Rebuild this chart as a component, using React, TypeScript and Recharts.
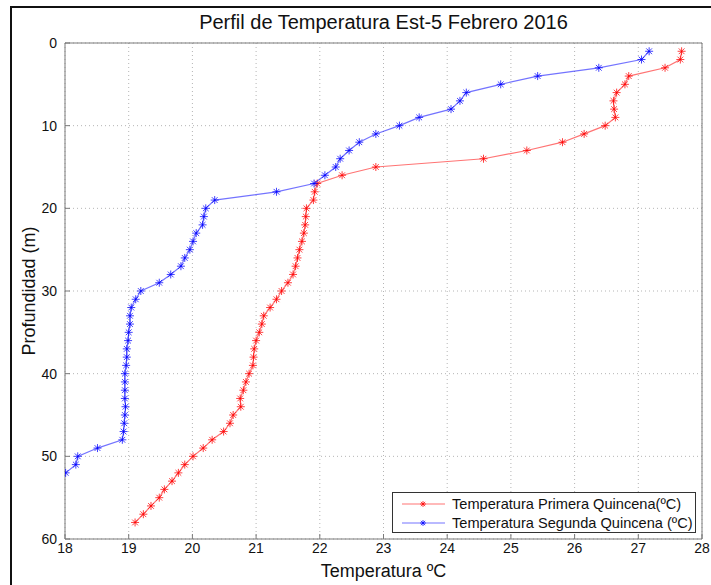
import React from 'react';
import {
  ScatterChart,
  Scatter,
  XAxis,
  YAxis,
  CartesianGrid,
} from 'recharts';

// Profundidad (m) y temperatura (ºC), Est-5, febrero 2016
const profundidadPrimera = [
  1, 2, 3, 4, 5, 6, 7, 8, 9, 10, 11, 12, 13, 14, 15, 16, 17, 18, 19, 20,
  21, 22, 23, 24, 25, 26, 27, 28, 29, 30, 31, 32, 33, 34, 35, 36, 37, 38, 39, 40,
  41, 42, 43, 44, 45, 46, 47, 48, 49, 50, 51, 52, 53, 54, 55, 56, 57, 58,
];
const tempPrimera = [
  27.68, 27.66, 27.42, 26.85, 26.79, 26.66, 26.61, 26.62, 26.64, 26.48,
  26.15, 25.81, 25.25, 24.57, 22.88, 22.35, 21.96, 21.92, 21.9, 21.79,
  21.78, 21.77, 21.75, 21.72, 21.68, 21.65, 21.62, 21.58, 21.5, 21.4,
  21.32, 21.22, 21.12, 21.09, 21.05, 21.0, 20.97, 20.96, 20.95, 20.89,
  20.84, 20.8, 20.75, 20.76, 20.64, 20.59, 20.49, 20.31, 20.17, 20.01,
  19.88, 19.78, 19.68, 19.56, 19.48, 19.35, 19.23, 19.1,
];

const profundidadSegunda = [
  1, 2, 3, 4, 5, 6, 7, 8, 9, 10, 11, 12, 13, 14, 15, 16, 17, 18, 19, 20,
  21, 22, 23, 24, 25, 26, 27, 28, 29, 30, 31, 32, 33, 34, 35, 36, 37, 38, 39, 40,
  41, 42, 43, 44, 45, 46, 47, 48, 49, 50, 51, 52,
];
const tempSegunda = [
  27.17, 27.05, 26.38, 25.42, 24.84, 24.3, 24.2, 24.06, 23.56, 23.25,
  22.88, 22.62, 22.46, 22.32, 22.25, 22.08, 21.91, 21.32, 20.35, 20.21,
  20.18, 20.16, 20.06, 20.01, 19.96, 19.88, 19.82, 19.66, 19.48, 19.19,
  19.11, 19.04, 19.02, 19.02, 19.0, 18.99, 18.97, 18.97, 18.96, 18.94,
  18.94, 18.94, 18.94, 18.95, 18.94, 18.93, 18.92, 18.9, 18.51, 18.2,
  18.17, 18.01,
];

const xTicks = [18, 19, 20, 21, 22, 23, 24, 25, 26, 27, 28];
const yTicks = [0, 10, 20, 30, 40, 50, 60];

const primera = profundidadPrimera.map((d, i) => ({ temp: tempPrimera[i], prof: d }));
const segunda = profundidadSegunda.map((d, i) => ({ temp: tempSegunda[i], prof: d }));

const ROJO = '#ff0000';
const AZUL = '#0000ff';
const FONT = '"Liberation Sans", Arial, sans-serif';
const AXIS = '#7a7a7a';

function Asterisco({ cx, cy, color, r = 4 }: { cx?: number; cy?: number; color: string; r?: number }) {
  if (cx == null || cy == null) return null;
  const d = r * 0.72;
  return (
    <g stroke={color} strokeWidth={1} strokeOpacity={0.75}>
      <line x1={cx - r} y1={cy} x2={cx + r} y2={cy} />
      <line x1={cx} y1={cy - r} x2={cx} y2={cy + r} />
      <line x1={cx - d} y1={cy - d} x2={cx + d} y2={cy + d} />
      <line x1={cx - d} y1={cy + d} x2={cx + d} y2={cy - d} />
    </g>
  );
}

function Leyenda() {
  const fila = (color: string, texto: string) => (
    <div style={{ display: 'flex', alignItems: 'center', height: 19 }}>
      <svg width={51} height={12} style={{ marginLeft: 8 }}>
        <line x1={1} y1={6} x2={44} y2={6} stroke={color} strokeOpacity={0.55} strokeWidth={1.2} />
        <Asterisco cx={22} cy={6} color={color} r={3} />
      </svg>
      <span style={{ fontSize: 14.6, color: '#111', whiteSpace: 'nowrap' }}>{texto}</span>
    </div>
  );
  return (
    <div
      style={{
        position: 'absolute',
        left: 392,
        top: 492,
        border: '1px solid #333',
        background: '#fff',
        width: 304,
        height: 41,
        boxSizing: 'border-box',
        paddingTop: 1,
        fontFamily: FONT,
      }}
    >
      {fila(ROJO, 'Temperatura Primera Quincena(ºC)')}
      {fila(AZUL, 'Temperatura Segunda Quincena (ºC)')}
    </div>
  );
}

export default function App() {
  const tickStyle = { fontSize: 14, fill: '#111', fontFamily: FONT };
  return (
    <div
      style={{
        position: 'absolute',
        left: 0,
        top: 0,
        width: 711,
        height: 585,
        background: '#fff',
        overflow: 'hidden',
        fontFamily: FONT,
      }}
    >
      <div
        style={{
          position: 'absolute',
          left: 10,
          top: 6,
          width: 720,
          height: 600,
          borderLeft: '2px solid #111',
          borderTop: '2px solid #111',
        }}
      />
      <div
        style={{
          position: 'absolute',
          left: 0,
          width: 767,
          top: 11,
          textAlign: 'center',
          fontSize: 20,
          color: '#111',
        }}
      >
        Perfil de Temperatura Est-5 Febrero 2016
      </div>
      <div
        style={{
          position: 'absolute',
          left: 0,
          width: 767,
          top: 561,
          textAlign: 'center',
          fontSize: 18,
          color: '#111',
        }}
      >
        Temperatura ºC
      </div>
      <div
        style={{
          position: 'absolute',
          left: 29,
          top: 291,
          transform: 'translate(-50%, -50%) rotate(-90deg)',
          fontSize: 18,
          color: '#111',
          whiteSpace: 'nowrap',
        }}
      >
        Profundidad (m)
      </div>
      <div style={{ position: 'absolute', left: 0, top: 0 }}>
        <ScatterChart width={711} height={585} margin={{ top: 42, right: 8, bottom: 45, left: 64 }}>
          <CartesianGrid stroke="#b5b5b5" strokeDasharray="1 3" />
          <XAxis
            type="number"
            dataKey="temp"
            domain={[18, 28]}
            ticks={xTicks}
            height={1}
            tickSize={-5}
            tickMargin={9}
            tick={tickStyle}
            stroke={AXIS}
            allowDataOverflow
          />
          <XAxis
            xAxisId="t"
            orientation="top"
            type="number"
            dataKey="temp"
            domain={[18, 28]}
            ticks={xTicks}
            height={1}
            tickSize={-5}
            tick={false}
            stroke={AXIS}
          />
          <YAxis
            type="number"
            dataKey="prof"
            domain={[0, 60]}
            reversed
            ticks={yTicks}
            width={1}
            tickSize={-5}
            tickMargin={13}
            tick={tickStyle}
            stroke={AXIS}
            allowDataOverflow
          />
          <YAxis
            yAxisId="r"
            orientation="right"
            type="number"
            dataKey="prof"
            domain={[0, 60]}
            reversed
            ticks={yTicks}
            width={1}
            tickSize={-5}
            tick={false}
            stroke={AXIS}
          />
          <Scatter
            name="Temperatura Primera Quincena(ºC)"
            data={primera}
            line={{ stroke: ROJO, strokeWidth: 1.2, strokeOpacity: 0.55 }}
            shape={(p: any) => <Asterisco cx={p.cx} cy={p.cy} color={ROJO} />}
            isAnimationActive={false}
          />
          <Scatter
            name="Temperatura Segunda Quincena (ºC)"
            data={segunda}
            line={{ stroke: AZUL, strokeWidth: 1.2, strokeOpacity: 0.55 }}
            shape={(p: any) => <Asterisco cx={p.cx} cy={p.cy} color={AZUL} />}
            isAnimationActive={false}
          />
        </ScatterChart>
      </div>
      <Leyenda />
    </div>
  );
}
